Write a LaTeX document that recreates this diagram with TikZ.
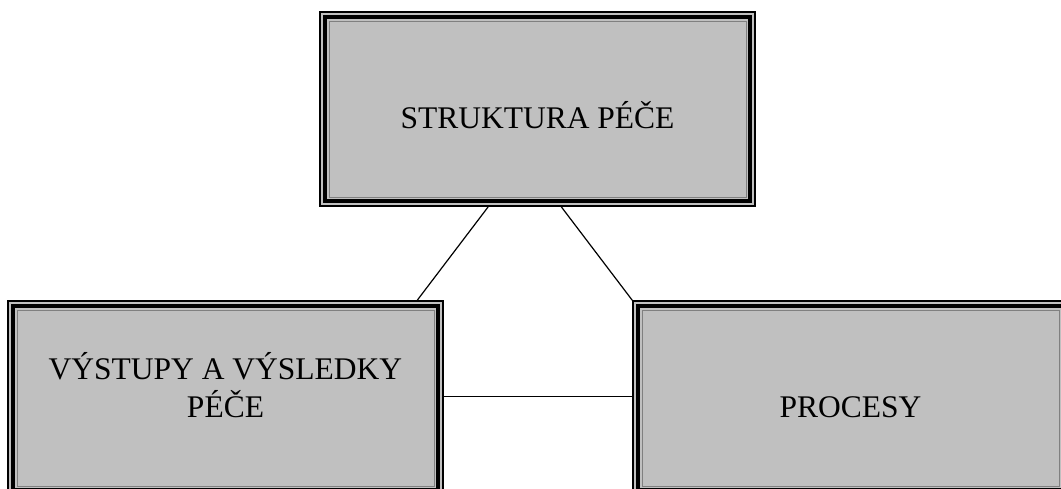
\documentclass[tikz,border=0pt]{standalone}
\usepackage{fontspec}
\setmainfont{Liberation Serif}
\definecolor{boxfill}{HTML}{C0C0C0}
\begin{document}
\begin{tikzpicture}[x=1pt,y=1pt,
  framebox/.style={rectangle, inner sep=0pt, fill=boxfill, draw=black,
    line width=1.5pt, minimum width=435pt, minimum height=194pt,
    path picture={
      \draw[line width=4pt]
        ([shift={(4.8pt,4.8pt)}]path picture bounding box.south west) rectangle
        ([shift={(-4.8pt,-4.8pt)}]path picture bounding box.north east);
      \draw[line width=0.7pt, black!50]
        ([shift={(8.9pt,8.9pt)}]path picture bounding box.south west) rectangle
        ([shift={(-8.9pt,-8.9pt)}]path picture bounding box.north east);
    }},
  boxtext/.style={anchor=base, align=center, inner sep=0pt,
    font=\fontsize{31.5pt}{38pt}\selectfont},
  link/.style={line width=1.2pt, black}]
\useasboundingbox (0,0) rectangle (1061,488);
\clip (0,0) rectangle (1061,488);

% the three boxes
\node[framebox] (top) at (537.5,379) {};
\node[framebox] (lft) at (225.5,90) {};
\node[framebox] (rgt) at (850.5,90) {};

% their labels (base = baseline of the last line)
\node[boxtext] (toptext) at ([yshift=-117pt]top.north) {STRUKTURA PÉČE};
\node[boxtext] (lfttext) at ([yshift=-117pt]lft.north) {VÝSTUPY A VÝSLEDKY\\PÉČE};
\node[boxtext] (rgttext) at ([yshift=-117pt]rgt.north) {PROCESY};

% connectors
\coordinate (topL) at ([xshift=169pt]top.south west);
\coordinate (topR) at ([xshift=242pt]top.south west);
\coordinate (lftT) at ([xshift=410pt]lft.north west);
\draw[link] (topL) -- (lftT);
\draw[link] (topR) -- (rgt.north west);
\draw[link] ([yshift=-96pt]lft.north east) -- ([yshift=-96pt]rgt.north west);
\end{tikzpicture}
\end{document}
